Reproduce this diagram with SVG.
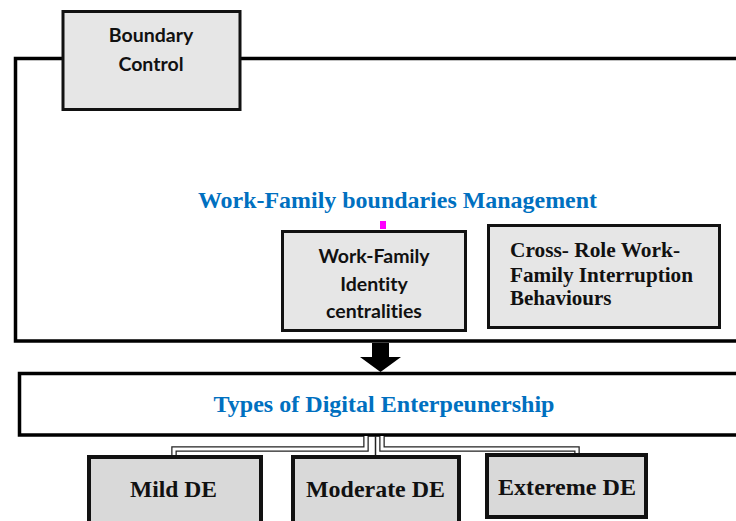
<svg xmlns="http://www.w3.org/2000/svg" width="736" height="521" viewBox="0 0 736 521">
<style>
.box{fill:#e6e6e6;stroke:#111;stroke-width:3}
.de{fill:#d9d9d9;stroke:#111;stroke-width:4}
.sans{font-family:Lato,"Open Sans","Liberation Sans",sans-serif;font-weight:bold;font-size:19.5px;fill:#111;text-anchor:middle;font-variant-ligatures:none}
.serif{font-family:"Liberation Serif","Times New Roman",serif;font-weight:bold;fill:#111}
.blue{font-family:"Liberation Serif","Times New Roman",serif;font-weight:bold;fill:#0070C0;text-anchor:middle}
.tubeo{fill:none;stroke:#222;stroke-width:5.5}
.tubei{fill:none;stroke:#fff;stroke-width:3}
</style>
<rect width="736" height="521" fill="#fff"/>
<g id="frame">
<path d="M740,58.5 H15.5 V341 H740" fill="none" stroke="#000" stroke-width="3.5"/>
</g>
<g id="boundary-control">
<rect class="box" x="63" y="11.5" width="177" height="98" stroke-width="2.5"/>
<text class="sans" x="151" y="42">Boundary</text>
<text class="sans" x="151" y="71">Control</text>
</g>
<g id="wfbm-title">
<text class="blue" x="397.5" y="208" font-size="23" textLength="399" lengthAdjust="spacingAndGlyphs">Work-Family boundaries Management</text>
</g>
<rect id="marker-dot" x="380" y="221" width="6" height="8" fill="#ff00ff"/>
<g id="identity">
<rect class="box" x="282.5" y="231.5" width="183" height="99" stroke-width="2.5"/>
<text class="sans" x="374" y="263">Work-Family</text>
<text class="sans" x="374" y="291">Identity</text>
<text class="sans" x="374" y="318">centralities</text>
</g>
<g id="interruption">
<rect class="box" x="488.5" y="225.5" width="231" height="102"/>
<text class="serif" x="510" y="257" font-size="21" textLength="170" lengthAdjust="spacingAndGlyphs">Cross- Role Work-</text>
<text class="serif" x="510" y="282" font-size="21" textLength="183" lengthAdjust="spacingAndGlyphs">Family Interruption</text>
<text class="serif" x="510" y="305" font-size="21">Behaviours</text>
</g>
<g id="arrow">
<polygon points="372,343 389,343 389,357 401,357 380.5,372 360,357 372,357" fill="#000"/>
</g>
<g id="types-de">
<rect x="19.5" y="373.5" width="730" height="61.5" fill="#fff" stroke="#000" stroke-width="3.5"/>
<text class="blue" x="384" y="412" font-size="23" textLength="341" lengthAdjust="spacingAndGlyphs">Types of Digital Enterpeunership</text>
</g>
<g id="connectors">
<path class="tubeo" d="M366,436 V449 H174 V457"/>
<path class="tubeo" d="M382,436 V449 H577 V455"/>
<path class="tubei" d="M366,436 V449 H174 V457"/>
<path class="tubei" d="M382,436 V449 H577 V455"/>
<path d="M375.5,436 V457" stroke="#222" stroke-width="1.5" fill="none"/>
</g>
<g id="mild">
<rect class="de" x="89" y="457" width="172" height="70"/>
<text class="serif" x="173.5" y="497" font-size="23" text-anchor="middle" textLength="87" lengthAdjust="spacingAndGlyphs">Mild DE</text>
</g>
<g id="moderate">
<rect class="de" x="293" y="457" width="166" height="70"/>
<text class="serif" x="375.5" y="497" font-size="23" text-anchor="middle" textLength="139" lengthAdjust="spacingAndGlyphs">Moderate DE</text>
</g>
<g id="extreme">
<rect class="de" x="487" y="455" width="159" height="62"/>
<text class="serif" x="567" y="495" font-size="23" text-anchor="middle" textLength="138" lengthAdjust="spacingAndGlyphs">Extereme DE</text>
</g>
</svg>
